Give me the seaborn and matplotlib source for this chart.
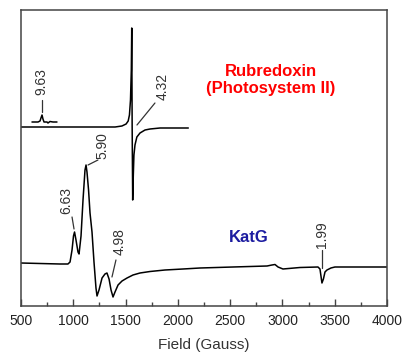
import matplotlib
matplotlib.use("Agg")
import matplotlib.pyplot as plt
import seaborn as sns
import pandas as pd
from matplotlib.ticker import MultipleLocator

# EPR spectra, magnetic field in gauss, signal in arbitrary units
rub_field = [500, 900, 1250, 1400, 1465, 1505, 1525, 1537, 1547, 1555, 1559,
             1563, 1568, 1574, 1580, 1590, 1608, 1638, 1686, 1734, 1830, 2100]
rub_signal = [179, 179, 179, 179, 180, 182, 185, 191, 206, 236, 278,
              179, 106, 131, 151, 161, 169, 173, 176, 177, 178, 178]

# expanded g = 9.63 region of the rubredoxin spectrum
low_field = [605, 663, 682, 691, 701, 710, 720, 749, 758, 777, 806, 844]
low_signal = [184, 184, 185, 188, 191, 187, 184, 184, 183, 184.5, 184, 184]

katg_field = [500, 682, 873, 949, 969, 988, 1002, 1012, 1026, 1045, 1055, 1074,
              1093, 1112, 1122, 1131, 1146, 1160, 1179, 1198, 1217, 1227, 1246,
              1275, 1303, 1322, 1342, 1361, 1380, 1399, 1428, 1466, 1514, 1571,
              1638, 1734, 1877, 2049, 2212, 2527, 2853, 2900, 2929, 2958, 3005,
              3168, 3340, 3359, 3378, 3392, 3407, 3426, 3445, 3464, 3502, 4000]
katg_signal = [43, 42.5, 42, 42, 44, 56, 70, 74, 66, 54, 52, 70,
               106, 136, 141, 134, 116, 93, 74, 44, 18, 10, 16,
               28, 32, 33, 27, 16, 9, 14, 21, 25, 28, 31,
               33, 34.5, 36, 37, 38, 39, 40, 41, 41.5, 39, 37,
               38.5, 39, 37, 23, 27, 34, 36, 37, 38, 39, 39]

# g-value labels: text, label position, leader start, leader end
g_labels = ["9.63", "4.32", "5.90", "6.63", "4.98", "1.99"]
g_text_pos = [(691, 224), (1858, 220), (1275, 160), (930, 105), (1447, 64), (3378, 71)]
g_lead_from = [(701, 206), (1781, 203), (1236, 146), (988, 89), (1408, 46), (3378, 56)]
g_lead_to = [(701, 194), (1609, 181), (1141, 141), (1007, 77), (1370, 29), (3378, 38)]

sns.set_theme(style="ticks")
plt.rcParams["font.family"] = ["Liberation Sans", "DejaVu Sans"]

fig = plt.figure(figsize=(4.05, 3.52), dpi=100)
ax = fig.add_axes([21 / 405, 46 / 352, 366 / 405, 296 / 352])

line_kw = dict(color="black", linewidth=1.1, estimator=None, legend=False, ax=ax)
sns.lineplot(data=pd.DataFrame({"f": rub_field, "s": rub_signal}), x="f", y="s", **line_kw)
sns.lineplot(data=pd.DataFrame({"f": low_field, "s": low_signal}), x="f", y="s", **line_kw)
sns.lineplot(data=pd.DataFrame({"f": katg_field, "s": katg_signal}), x="f", y="s", **line_kw)

for lab, tp, p0, p1 in zip(g_labels, g_text_pos, g_lead_from, g_lead_to):
    ax.text(tp[0], tp[1], lab, rotation=90, ha="center", va="center",
            fontsize=10, color="#333333")
    ax.plot([p0[0], p1[0]], [p0[1], p1[1]], color="#333333", linewidth=0.9)

ax.text(2891, 226, "Rubredoxin\n(Photosystem II)", color="#ff0000", fontsize=12,
        fontweight="bold", ha="center", va="center", multialignment="center",
        linespacing=1.25)
ax.text(2680, 69, "KatG", color="#1c1ca0", fontsize=12, fontweight="bold",
        ha="center", va="center")

ax.set_xlim(500, 4000)
ax.set_ylim(0, 296)
ax.xaxis.set_major_locator(MultipleLocator(500))
ax.xaxis.set_minor_locator(MultipleLocator(250))
ax.set_yticks([])
ax.tick_params(axis="x", which="major", direction="in", length=5, width=1,
               color="#444444", labelsize=10, labelcolor="#222222", pad=6)
ax.tick_params(axis="x", which="minor", direction="in", length=3, width=1,
               color="#444444")
ax.set_xlabel("Field (Gauss)", fontsize=11, color="#333333", labelpad=7)
ax.set_ylabel("")
for sp in ax.spines.values():
    sp.set_visible(True)
    sp.set_color("#444444")
    sp.set_linewidth(1.1)

fig.savefig("out.png", dpi=100)
